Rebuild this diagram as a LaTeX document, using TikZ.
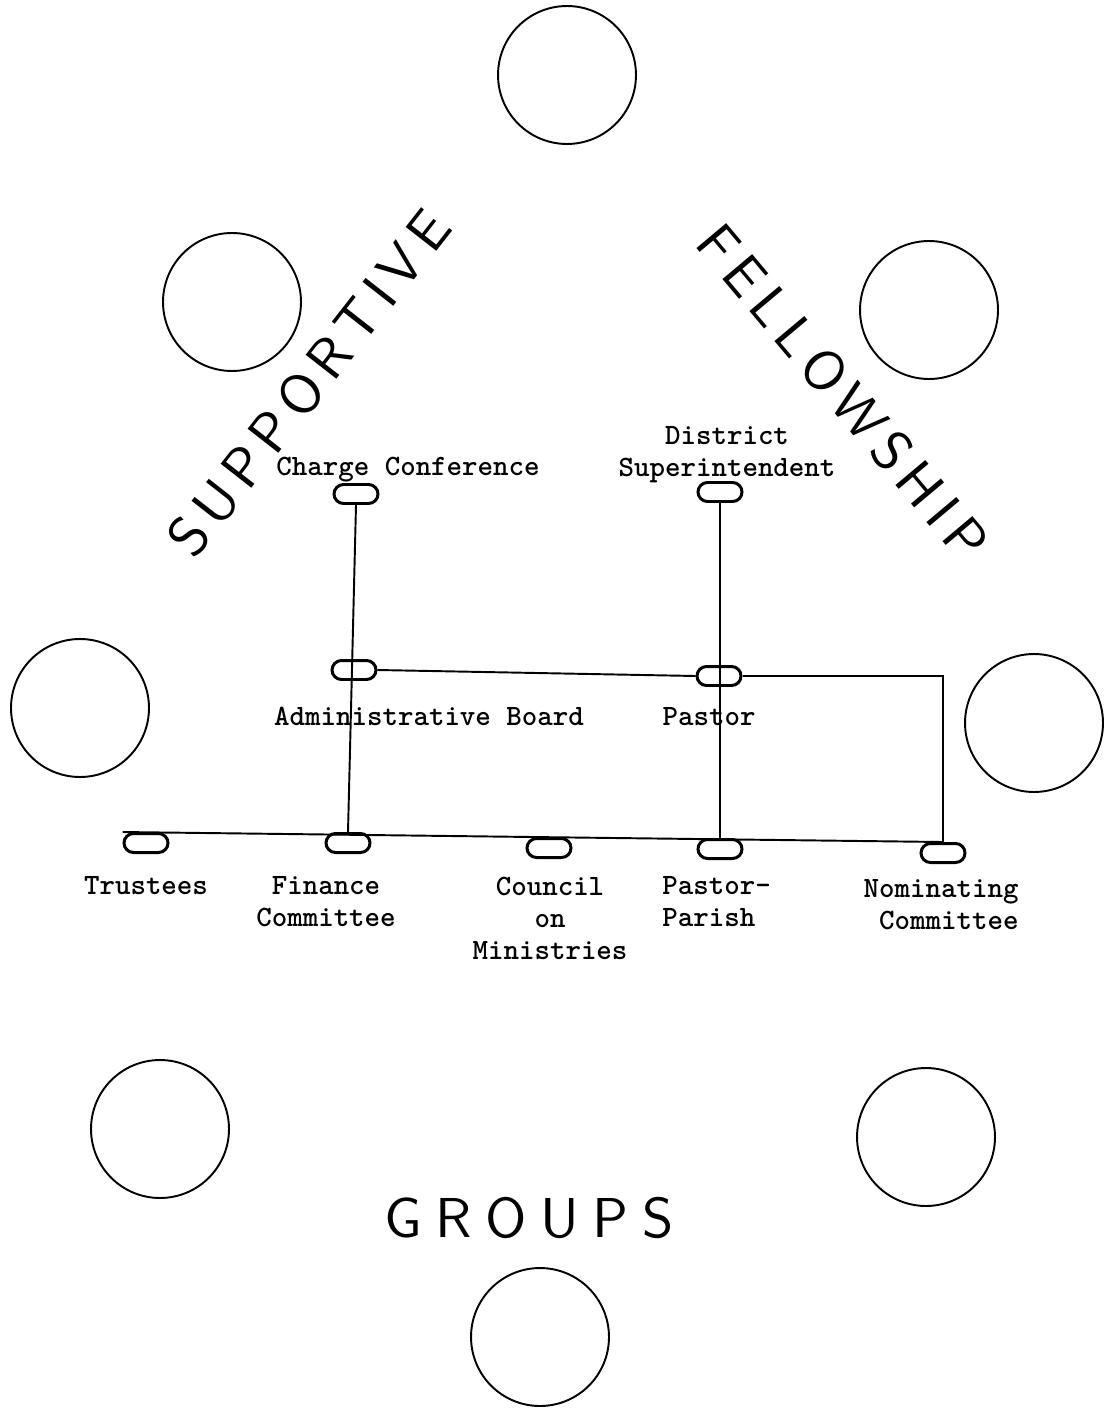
\documentclass[tikz,border=0pt]{standalone}
\usepackage{fontspec}
\newfontfamily\handfont{lmsans10-regular.otf}[LetterSpace=15]
\begin{document}
\begin{tikzpicture}[x=0.02cm,y=-0.02cm,
  pill/.style={draw,line width=1.7pt,rounded corners=0.19cm,minimum width=0.88cm,minimum height=0.38cm,inner sep=0pt},
  ring/.style={line width=1.1pt},
  link/.style={line width=1.1pt},
  txt/.style={font=\ttfamily\bfseries\fontsize{16.8}{18.2}\selectfont,align=center,inner sep=0pt},
  hand/.style={font=\handfont\fontsize{32}{36}\selectfont,inner sep=0pt}]
\useasboundingbox (0,0) rectangle (1105,1412);
% the groups
\foreach \p in {(567,75),(232,302),(929,310),(80,708),(1034,723),(160,1129),(926,1137),(540,1337)}
  \draw[ring] \p circle[radius=1.38cm];
% handwritten words
\node[hand,rotate=52] (sup) at (309,383) {SUPPORTIVE};
\node[hand,rotate=-50] (fel) at (843,392) {FELLOWSHIP};
\node[hand,font=\handfont\fontsize{32}{36}\selectfont\addfontfeature{LetterSpace=24}] (grp) at (529,1218) {GROUPS};
% boxes
\node[pill] (cc) at (356,494) {};
\node[pill] (ds) at (720,492) {};
\node[pill] (ab) at (354,670) {};
\node[pill] (pa) at (719,676) {};
\node[pill] (tr) at (146,843) {};
\node[pill] (fc) at (348,843) {};
\node[pill] (co) at (549,848) {};
\node[pill] (pp) at (720,849) {};
\node[pill] (nc) at (943,853) {};
% labels
\node[txt] (cc-l) at (408,470) {Charge Conference};
\node[txt] (ds-l) at (727,455) {District\\Superintendent};
\node[txt] (ab-l) at (429,716) {Administrative Board};
\node[txt] (pa-l) at (709,717) {Pastor};
\node[txt] (tr-l) at (146,886) {Trustees};
\node[txt] (fc-l) at (326,902) {Finance\\Committee};
\node[txt] (co-l) at (550,918) {Council\\on\\Ministries};
\node[txt,align=left,anchor=west] (pp-l) at (662,902) {Pastor-\\Parish};
\node[txt,align=right,anchor=east] (nc-l) at (1019,905) {Nominating\\Committee};
% lines
\draw[link] (cc.south) -- (fc.north);
\draw[link] (ds.south) -- (pp.north);
\draw[link] (ab.east) -- (pa.west);
\draw[link] (pa.east) -| (nc.north);
\draw[link] (tr.north west) -- (nc.north);
\end{tikzpicture}
\end{document}
